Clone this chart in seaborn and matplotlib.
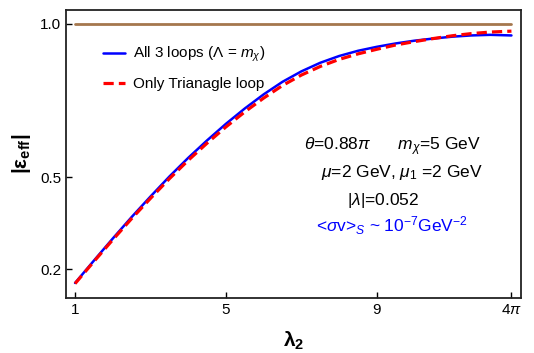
import numpy as np
import pandas as pd
import matplotlib
matplotlib.use("Agg")
import matplotlib.pyplot as plt
import seaborn as sns

# lectura aproximada de las curvas del grafico original
lam2 = [1.0, 1.5, 2.0, 2.5, 3.0, 3.5, 4.0, 4.5, 5.0, 5.5, 6.0, 6.5,
        7.0, 7.5, 8.0, 8.5, 9.0, 9.5, 10.0, 10.5, 11.0, 11.5, 12.0, 4 * np.pi]
eps_all3 = [0.155, 0.228, 0.300, 0.370, 0.437, 0.502, 0.563, 0.620, 0.674, 0.724, 0.770, 0.811,
            0.845, 0.873, 0.895, 0.912, 0.925, 0.936, 0.945, 0.952, 0.958, 0.962, 0.964, 0.962]
eps_tri = [0.153, 0.225, 0.296, 0.365, 0.431, 0.495, 0.555, 0.611, 0.664, 0.713, 0.758, 0.799,
           0.833, 0.861, 0.884, 0.902, 0.917, 0.931, 0.942, 0.952, 0.961, 0.968, 0.973, 0.976]
ref_x = [1.0, 4 * np.pi]
ref_y = [1.0, 1.0]

xticks = [1, 5, 9, 4 * np.pi]
xtick_labels = ['1', '5', '9', r'4$\pi$']
yticks = [0.2, 0.5, 1.0]
ytick_labels = ['0.2', '0.5', '1.0']

df = pd.DataFrame({'lam2': lam2, 'all3': eps_all3, 'tri': eps_tri})
df_ref = pd.DataFrame({'x': ref_x, 'y': ref_y})

sns.set_style('ticks')
plt.rcParams['font.family'] = ['Liberation Sans', 'DejaVu Sans']
plt.rcParams['mathtext.fontset'] = 'custom'
plt.rcParams['mathtext.rm'] = 'Liberation Sans'
plt.rcParams['mathtext.it'] = 'Liberation Sans:italic'
plt.rcParams['mathtext.bf'] = 'Liberation Sans:bold'
plt.rcParams['mathtext.fallback'] = 'stixsans'
for k in ['text.color', 'axes.labelcolor', 'xtick.color', 'ytick.color']:
    plt.rcParams[k] = 'black'

fig = plt.figure(figsize=(5.34, 3.53), dpi=100)
ax = fig.add_axes([0.1236, 0.1558, 0.8521, 0.8159])

sns.lineplot(data=df_ref, x='x', y='y', ax=ax, color='#A5774D', lw=2)
sns.lineplot(data=df, x='lam2', y='all3', ax=ax, color='#0000FF', lw=1.8,
             label=r'All 3 loops ($\Lambda$ = $m_\chi$)')
sns.lineplot(data=df, x='lam2', y='tri', ax=ax, color='#FF0000', lw=2.3,
             label='Only Trianagle loop')
ax.lines[-1].set_dashes([3.2, 1.6])

ax.set_xlim(0.76, 12.82)
ax.set_ylim(0.106, 1.045)
ax.set_xticks(xticks)
ax.set_xticklabels(xtick_labels)
ax.set_yticks(yticks)
ax.set_yticklabels(ytick_labels)
ax.tick_params(direction='in', length=4, width=1, labelsize=11, colors='black')
for s in ax.spines.values():
    s.set_linewidth(1.3)
    s.set_color('#222222')

ax.set_xlabel(r'$\mathbf{\lambda_2}$', fontsize=15, labelpad=9)
ax.set_ylabel(r'$\mathbf{|\epsilon_{eff}|}$', fontsize=15, labelpad=5)

leg = ax.legend(loc='upper left', bbox_to_anchor=(0.081, 0.878), frameon=False,
                fontsize=11, handlelength=1.44, handletextpad=0.52,
                labelspacing=0.85, borderpad=0, borderaxespad=0)
leg.get_lines()[1].set_dashes([3.2, 1.6])

ax.text(0.717, 0.527, r'$\theta$=0.88$\pi$      $m_\chi$=5 GeV', transform=ax.transAxes,
        ha='center', va='center', fontsize=12.5)
ax.text(0.738, 0.437, r'$\mu$=2 GeV, $\mu_1$ =2 GeV', transform=ax.transAxes,
        ha='center', va='center', fontsize=12.5)
ax.text(0.697, 0.34, r'|$\lambda$|=0.052', transform=ax.transAxes,
        ha='center', va='center', fontsize=12.5)
ax.text(0.717, 0.25, r'<$\sigma$v>$_S$ ~ 10$^{-7}$GeV$^{-2}$', transform=ax.transAxes,
        ha='center', va='center', fontsize=12.5, color='#0000FF')

fig.savefig('out.png', dpi=100)
